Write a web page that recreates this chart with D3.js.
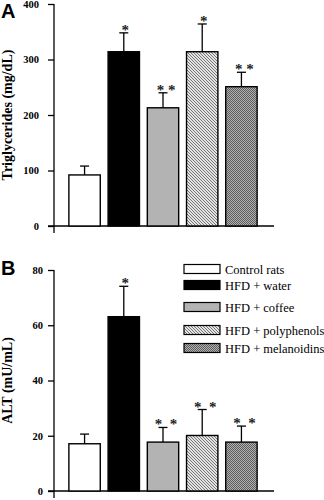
<!DOCTYPE html>
<html><head><meta charset="utf-8">
<script src="https://cdn.jsdelivr.net/npm/d3@7"></script>
<style>body{margin:0;background:#fff}svg{display:block}
.serif{font-family:"Liberation Serif","Times New Roman",Times,serif}
.sans{font-family:"Liberation Sans",Arial,sans-serif}</style>
</head><body>
<script>
const categories = ["Control rats","HFD + water","HFD + coffee","HFD + polyphenols","HFD + melanoidins"];
const tgMeans = [92, 314, 213, 314, 251];
const tgErr = [16, 34, 27, 50, 26];
const tgSig = ["", "*", "* *", "*", "* *"];
const tgTicks = [0, 100, 200, 300, 400];
const altMeans = [17.1, 63.1, 17.7, 20.1, 17.7];
const altErr = [3.5, 11, 5.3, 9.4, 5.8];
const altSig = ["", "*", "*  *", "*  *", "*  *"];
const altTicks = [0, 20, 40, 60, 80];

const W = 324, H = 500;
const svg = d3.select("body").append("svg").attr("width", W).attr("height", H);
const defs = svg.append("defs");
const pp = defs.append("pattern").attr("id","poly").attr("patternUnits","userSpaceOnUse")
  .attr("width",3).attr("height",3);
pp.append("rect").attr("width",3).attr("height",3).attr("fill","#e4e4e4");
pp.append("path").attr("d","M-1,-1L4,4M-1,2L1,4M2,-1L4,1").attr("stroke","#6a6a6a").attr("stroke-width",0.9);
const pm = defs.append("pattern").attr("id","mel").attr("patternUnits","userSpaceOnUse")
  .attr("width",2).attr("height",2);
pm.append("rect").attr("width",2).attr("height",2).attr("fill","#b0b0b0");
pm.append("rect").attr("width",1).attr("height",1).attr("fill","#5e5e5e");
pm.append("rect").attr("x",1).attr("y",1).attr("width",1).attr("height",1).attr("fill","#5e5e5e");
const fills = ["#ffffff","#000000","#b3b3b3","url(#poly)","url(#mel)"];

const x = d3.scaleBand().domain(categories).range([63, 263]).paddingInner(0.2).paddingOuter(0.15);

function panel(yTop, yBottom, maxV, ticks, means, errs, sigs, title, letter, letterY, tickPad) {
  const y = d3.scaleLinear().domain([0, maxV]).range([yBottom, yTop]);
  const g = svg.append("g");
  const ax = g.append("g").attr("transform","translate(54,0)")
    .call(d3.axisLeft(y).tickValues(ticks).tickSize(6).tickPadding(tickPad).tickFormat(d3.format("d")));
  ax.attr("font-family", null).attr("font-size", null);
  ax.select(".domain").remove();
  ax.selectAll(".tick line").attr("stroke","#000").attr("stroke-width",1.3);
  ax.selectAll(".tick text").attr("class","serif").style("font-weight","bold")
    .style("font-size","10.5px").attr("fill","#000");
  g.append("line").attr("x1",54).attr("x2",54).attr("y1",y(maxV)).attr("y2",y(0)+7)
    .attr("stroke","#000").attr("stroke-width",1.3);
  g.append("line").attr("x1",48).attr("x2",274).attr("y1",y(0)).attr("y2",y(0))
    .attr("stroke","#000").attr("stroke-width",1.3);
  g.selectAll(".bar").data(categories).enter().append("rect")
    .attr("x", d => x(d)).attr("width", x.bandwidth())
    .attr("y", (d,i) => y(means[i])).attr("height", (d,i) => y(0) - y(means[i]))
    .attr("fill", (d,i) => fills[i]).attr("stroke","#000").attr("stroke-width",1.4);
  categories.forEach((d,i) => {
    const cx = x(d) + x.bandwidth()/2;
    const top = y(means[i] + errs[i]);
    g.append("line").attr("x1",cx).attr("x2",cx).attr("y1",y(means[i])).attr("y2",top)
      .attr("stroke","#000").attr("stroke-width",1.3);
    g.append("line").attr("x1",cx-4.5).attr("x2",cx+4.5).attr("y1",top).attr("y2",top)
      .attr("stroke","#000").attr("stroke-width",1.3);
    if (sigs[i]) {
      g.append("text").attr("class","serif").attr("x", cx + (sigs[i].length > 1 ? 3 : 1.5)).attr("y", top + 2)
        .attr("text-anchor","middle").style("font-weight","bold")
        .style("font-size","15px").style("white-space","pre").attr("fill","#222").text(sigs[i]);
    }
  });
  const mid = (yTop + yBottom) / 2;
  g.append("text").attr("class","serif").attr("transform", `translate(12,${mid}) rotate(-90)`).attr("text-anchor","middle")
    .style("font-weight","bold").style("font-size","14px").text(title);
  svg.append("text").attr("class","sans").attr("x",1).attr("y",letterY)
    .style("font-weight","bold").style("font-size","20px").text(letter);
  return y;
}

panel(4, 226, 400, tgTicks, tgMeans, tgErr, tgSig, "Triglycerides (mg/dL)", "A", 18, 9);
panel(270, 491, 80, altTicks, altMeans, altErr, altSig, "ALT (mU/mL)", "B", 275, 5);

const legY = [269, 285, 307, 330, 348];
const leg = svg.append("g");
categories.forEach((c,i) => {
  leg.append("rect").attr("x",184).attr("y",legY[i]-4.5).attr("width",36).attr("height",9)
    .attr("fill",fills[i]).attr("stroke","#000").attr("stroke-width",1.2);
  leg.append("text").attr("class","serif").attr("x",225).attr("y",legY[i]+4.5)
    .style("font-size","12.5px").text(c);
});
</script>
</body></html>
